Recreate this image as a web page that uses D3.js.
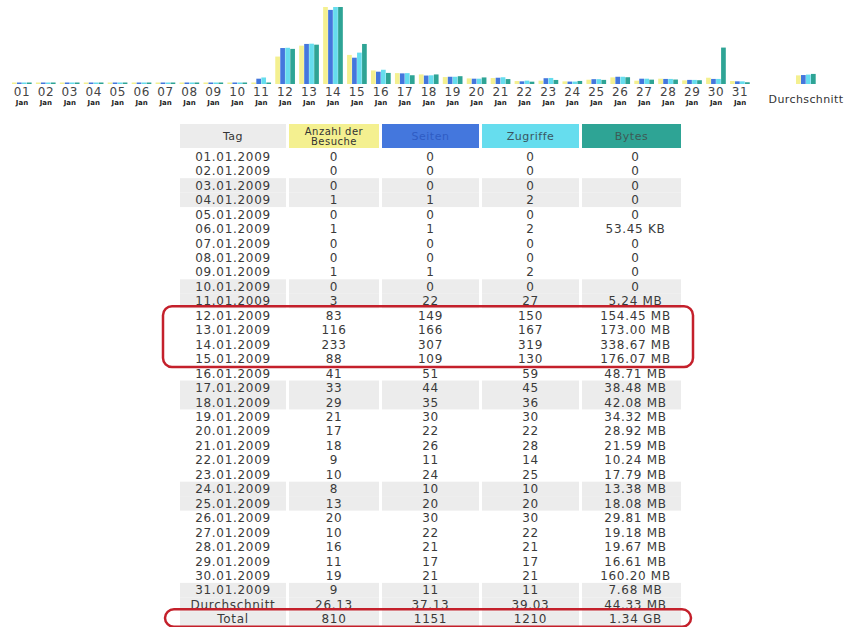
<!DOCTYPE html>
<html lang="de">
<head>
    <meta charset="UTF-8">
    <title>Statistik Januar 2009</title>
    <style type="text/css">
        * {
            margin: 0;
            padding: 0;
        }

        body {
            background: #fff;
        }

        text {
            font-family: "DejaVu Sans", Verdana, sans-serif;
        }
    </style>
</head>
<body>
<div id="chart-area"></div>
<script src="https://cdn.jsdelivr.net/npm/d3@7/dist/d3.min.js"></script>
<script type="text/javascript">

  // --- data (Januar 2009) ---
  const days = ['01', '02', '03', '04', '05', '06', '07', '08', '09', '10', '11', '12', '13', '14', '15', '16',
    '17', '18', '19', '20', '21', '22', '23', '24', '25', '26', '27', '28', '29', '30', '31']
  const dates = days.map(d => `${d}.01.2009`)
  const visits = [0, 0, 0, 1, 0, 1, 0, 0, 1, 0, 3, 83, 116, 233, 88, 41, 33, 29, 21, 17, 18, 9, 10, 8, 13, 20, 10, 16, 11, 19, 9]
  const pages = [0, 0, 0, 1, 0, 1, 0, 0, 1, 0, 22, 149, 166, 307, 109, 51, 44, 35, 30, 22, 26, 11, 24, 10, 20, 30, 22, 21, 17, 21, 11]
  const hits = [0, 0, 0, 2, 0, 2, 0, 0, 2, 0, 27, 150, 167, 319, 130, 59, 45, 36, 30, 22, 28, 14, 25, 10, 20, 30, 22, 21, 17, 21, 11]
  const bytes = ['0', '0', '0', '0', '0', '53.45 KB', '0', '0', '0', '0', '5.24 MB', '154.45 MB', '173.00 MB', '338.67 MB',
    '176.07 MB', '48.71 MB', '38.48 MB', '42.08 MB', '34.32 MB', '28.92 MB', '21.59 MB', '10.24 MB', '17.79 MB',
    '13.38 MB', '18.08 MB', '29.81 MB', '19.18 MB', '19.67 MB', '16.61 MB', '160.20 MB', '7.68 MB']
  const average = ['Durchschnitt', '26.13', '37.13', '39.03', '44.33 MB']
  const total = ['Total', '810', '1151', '1210', '1.34 GB']
  const headers = [['Tag'], ['Anzahl der', 'Besuche'], ['Seiten'], ['Zugriffe'], ['Bytes']]
  const weekendRows = ['03', '04', '10', '11', '17', '18', '24', '25', '31']
  const highlightDays = ['12', '15']

  const series = ['visits', 'pages', 'hits', 'bytes']
  const colorRange = ['#f4f090', '#4477dd', '#66ddee', '#2ea495']
  const colors = d3.scaleOrdinal().domain(series).range(colorRange)

  // bytes strings -> MB
  const toMB = s => {
    const [v, u] = s.split(' ')
    if (!u) return +v
    return u === 'KB' ? +v / 1024 : u === 'GB' ? +v * 1024 : +v
  }
  const bytesMB = bytes.map(toMB)

  const W = 858, H = 627
  const svg = d3.select('#chart-area').append('svg')
    .attr('width', W)
    .attr('height', H)

  // --- bar chart ---
  const BASE = 84, BAR_H = 77
  const x = d3.scaleBand().domain(days).range([10, 752]).padding(0)
  const sub = d3.scaleBand().domain(series).range([-10, 10])
  const yVisits = d3.scaleLinear().domain([0, d3.max(visits)]).range([0, BAR_H])
  const yHits = d3.scaleLinear().domain([0, d3.max(hits)]).range([0, BAR_H])
  const yBytes = d3.scaleLinear().domain([0, d3.max(bytesMB)]).range([0, BAR_H])
  const scaleOf = {visits: yVisits, pages: yHits, hits: yHits, bytes: yBytes}

  const rows = days.map((d, i) => ({
    key: d, cx: x(d) + x.bandwidth() / 2,
    vals: {visits: visits[i], pages: pages[i], hits: hits[i], bytes: bytesMB[i]}
  }))
  rows.push({
    key: 'avg', cx: 806,
    vals: {visits: +average[1], pages: +average[2], hits: +average[3], bytes: toMB(average[4])}
  })

  const chart = svg.append('g').attr('class', 'bars')
  chart.selectAll('g.day').data(rows).join('g')
    .attr('class', 'day')
    .attr('transform', d => `translate(${d.cx}, 0)`)
    .selectAll('rect')
    .data(d => series.map(s => ({s, v: d.vals[s]})))
    .join('rect')
    .attr('x', d => sub(d.s))
    .attr('width', sub.bandwidth() - 0.3)
    .attr('y', d => BASE - Math.max(1.5, scaleOf[d.s](d.v)))
    .attr('height', d => Math.max(1.5, scaleOf[d.s](d.v)))
    .attr('fill', d => colors(d.s))

  const labels = svg.append('g').attr('class', 'day-labels')
  labels.selectAll('text.num').data(days).join('text')
    .attr('class', 'num')
    .attr('x', d => x(d) + x.bandwidth() / 2)
    .attr('y', 96)
    .attr('text-anchor', 'middle')
    .attr('font-size', '12px')
    .attr('letter-spacing', '0.6')
    .attr('fill', '#444')
    .text(d => d)
  labels.selectAll('text.mon').data(days).join('text')
    .attr('class', 'mon')
    .attr('x', d => x(d) + x.bandwidth() / 2)
    .attr('y', 105)
    .attr('text-anchor', 'middle')
    .attr('font-size', '7px')
    .attr('font-weight', 'bold')
    .attr('fill', '#222')
    .text('Jan')
  labels.append('text')
    .attr('x', 806)
    .attr('y', 103)
    .attr('text-anchor', 'middle')
    .attr('font-size', '11px')
    .attr('letter-spacing', '0.4')
    .attr('fill', '#333')
    .text('Durchschnitt')

  // --- table ---
  const cols = [[180, 286], [289, 379], [382, 479], [482, 579], [582, 681]]
  const headFill = ['#ececec', '#f4f090', '#4477dd', '#66ddee', '#2ea495']
  const headText = ['#333', '#333', '#2f5cc4', '#3a5560', '#3d5a55']
  const rowH = 14.45
  const rowY = d3.scaleLinear().domain([0, 32]).range([156.5, 619])

  const table = svg.append('g').attr('class', 'table')
  const head = table.selectAll('g.head').data(headers).join('g').attr('class', 'head')
  head.append('rect')
    .attr('x', (d, i) => cols[i][0])
    .attr('y', 124)
    .attr('width', (d, i) => cols[i][1] - cols[i][0])
    .attr('height', 24)
    .attr('fill', (d, i) => headFill[i])
  head.selectAll('text').data((d, i) => d.map((t, j) => ({t, j, n: d.length, i}))).join('text')
    .attr('x', d => (cols[d.i][0] + cols[d.i][1]) / 2)
    .attr('y', d => d.n === 1 ? 136 : 131 + d.j * 10.5)
    .attr('dy', '0.35em')
    .attr('text-anchor', 'middle')
    .attr('font-size', d => d.n === 1 ? '11px' : '10px')
    .attr('letter-spacing', '0.5')
    .attr('fill', d => headText[d.i])
    .text(d => d.t)

  const tableRows = days.map((d, i) => [dates[i], visits[i], pages[i], hits[i], bytes[i]])
  tableRows.push(average, total)
  const greyRows = tableRows.map((r, i) => i >= 31 || weekendRows.includes(days[i]))

  const tr = table.selectAll('g.row').data(tableRows).join('g')
    .attr('class', 'row')
    .attr('transform', (d, i) => `translate(0, ${rowY(i)})`)
  tr.filter((d, i) => greyRows[i]).selectAll('rect')
    .data(cols).join('rect')
    .attr('x', c => c[0])
    .attr('y', -rowH / 2)
    .attr('width', c => c[1] - c[0])
    .attr('height', rowH)
    .attr('fill', '#ececec')
  tr.selectAll('text').data(d => d).join('text')
    .attr('x', (d, i) => (cols[i][0] + cols[i][1]) / 2 + (i === 4 ? 4 : 0))
    .attr('dy', '0.36em')
    .attr('text-anchor', 'middle')
    .attr('font-size', '12px')
    .attr('letter-spacing', '0.7')
    .attr('fill', '#3a3a3a')
    .text(d => d)

  // --- red highlight boxes ---
  const i0 = days.indexOf(highlightDays[0]), i1 = days.indexOf(highlightDays[1])
  const boxes = [
    {x0: 163, x1: 693, y0: rowY(i0) - rowH / 2 - 2, y1: rowY(i1) + rowH / 2 + 1},
    {x0: 165, x1: 691, y0: rowY(32) - rowH / 2 - 2.5, y1: rowY(32) + rowH / 2 + 0.5}
  ]
  svg.append('g').attr('class', 'marks')
    .selectAll('rect').data(boxes).join('rect')
    .attr('x', d => d.x0)
    .attr('y', d => d.y0)
    .attr('width', d => d.x1 - d.x0)
    .attr('height', d => d.y1 - d.y0)
    .attr('rx', 9)
    .attr('fill', 'none')
    .attr('stroke', '#c4202b')
    .attr('stroke-width', 2.5)

</script>
</body>
</html>
